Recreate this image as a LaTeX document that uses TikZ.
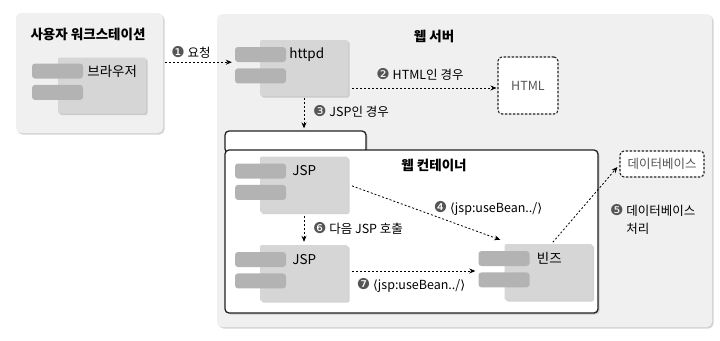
\documentclass[tikz,border=0pt]{standalone}
\usepackage{fontspec}
\setmainfont{Noto Sans CJK KR}
\newfontfamily\symfont{DejaVu Sans}
\definecolor{panel}{HTML}{F0F0F0}
\definecolor{compfill}{HTML}{D6D6D6}
\definecolor{barfill}{HTML}{B3B3B3}
\definecolor{edge}{HTML}{222222}
\definecolor{shade}{HTML}{A8A8A8}
\definecolor{numgray}{HTML}{555555}
\definecolor{txtgray}{HTML}{555555}
\usepackage{tikz}
\usetikzlibrary{arrows.meta,positioning,shadows,calc}
\newcommand\numc[1]{{\symfont\fontsize{15}{15}\selectfont\color{numgray}#1}}
\newcommand\lang{{\symfont ⟨}}
\newcommand\rang{{\symfont ⟩}}
\tikzset{
  panel_box/.style={fill=panel,rounded corners=5pt,
    drop shadow={shadow xshift=1.5pt,shadow yshift=-1.5pt,fill=shade}},
  comp_box/.style={fill=compfill,rounded corners=2pt,minimum width=88pt,minimum height=56pt,
    drop shadow={shadow xshift=1.5pt,shadow yshift=-1.5pt,fill=shade}},
  bar_box/.style={fill=barfill,rounded corners=3pt,minimum width=51pt,minimum height=15pt,
    inner sep=0pt,anchor=north west},
  cont_box/.style={draw=edge,line width=1.3pt,fill=white,rounded corners=4pt,
    drop shadow={shadow xshift=1.5pt,shadow yshift=-1.5pt,fill=shade,draw=none}},
  dash_box/.style={draw=edge,line width=1.1pt,dash pattern=on 2.5pt off 1.5pt,rounded corners=4pt,fill=white,
    font=\fontsize{12.5}{14}\selectfont,text=txtgray},
  head_txt/.style={font=\fontsize{13.5}{15}\selectfont\bfseries,inner sep=0pt},
  lbl/.style={font=\fontsize{13.5}{15}\selectfont,anchor=west,inner sep=0pt},
  note_txt/.style={font=\fontsize{12.5}{18}\selectfont,inner sep=0pt,align=left},
  arr/.style={-{Stealth[length=6pt,width=5pt]},draw=black,dash pattern=on 2pt off 2pt,line width=0.8pt},
}
\begin{document}
\begin{tikzpicture}[x=1pt,y=-1pt]
  \useasboundingbox (0,0) rectangle (720,340);

  % panels
  \node[panel_box,minimum width=147pt,minimum height=120pt] (ws) at (89.5,73) {};
  \node[panel_box,minimum width=495pt,minimum height=313pt] (srv) at (464.5,170.5) {};
  \node[head_txt] (ws-t) at (88,34) {사용자 워크스테이션};
  \node[head_txt] (srv-t) at (434,36) {웹 서버};

  % web container
  \node[cont_box,minimum width=141pt,minimum height=22pt] (tab) at (295.5,142) {};
  \node[cont_box,minimum width=373pt,minimum height=163pt] (cont) at (411.5,231.5) {};
  \node[head_txt] (cont-t) at (434,165) {웹 컨테이너};

  % components
  \node[comp_box] (brw) at (102,85.5) {};
  \node[bar_box] (brw-b1) at ([shift={(-26pt,-6pt)}]brw.north west) {};
  \node[bar_box,below=6pt of brw-b1] (brw-b2) {};
  \node[lbl] (brw-l) at ([xshift=4pt]brw-b1.east) {브라우저};

  \node[comp_box] (httpd) at (304,68) {};
  \node[bar_box] (httpd-b1) at ([shift={(-25pt,-7pt)}]httpd.north west) {};
  \node[bar_box,below=6pt of httpd-b1] (httpd-b2) {};
  \node[lbl] (httpd-l) at ([xshift=3pt]httpd-b1.east) {httpd};

  \node[comp_box] (jsp1) at (304,184.5) {};
  \node[bar_box] (jsp1-b1) at ([shift={(-25pt,-7pt)}]jsp1.north west) {};
  \node[bar_box,below=6pt of jsp1-b1] (jsp1-b2) {};
  \node[lbl] (jsp1-l) at ([xshift=6pt]jsp1-b1.east) {JSP};

  \node[comp_box] (jsp2) at (304,273) {};
  \node[bar_box] (jsp2-b1) at ([shift={(-25pt,-7pt)}]jsp2.north west) {};
  \node[bar_box,below=6pt of jsp2-b1] (jsp2-b2) {};
  \node[lbl] (jsp2-l) at ([xshift=6pt]jsp2-b1.east) {JSP};

  \node[comp_box] (beans) at (548.5,272) {};
  \node[bar_box] (beans-b1) at ([shift={(-26pt,-7pt)}]beans.north west) {};
  \node[bar_box,below=6pt of beans-b1] (beans-b2) {};
  \node[lbl] (beans-l) at ([xshift=7pt]beans-b1.east) {빈즈};

  % targets
  \node[dash_box,minimum width=60pt,minimum height=57pt] (html) at (528,85.5) {HTML};
  \node[dash_box,minimum width=84pt,minimum height=26pt] (db) at (662,164) {데이터베이스};

  % notes
  \node[note_txt] (n1) at (191,52) {\numc{❶} 요청};
  \node[note_txt] (n2) at (420,74) {\numc{❷} HTML인 경우};
  \node[note_txt] (n3) at (351,111) {\numc{❸} JSP인 경우};
  \node[note_txt] (n4) at (488,208) {\numc{❹} \lang jsp:useBean../\rang};
  \node[note_txt,anchor=west] (n5) at (610,219) {\numc{❺} 데이터베이스\\\phantom{\numc{❺} }처리};
  \node[note_txt] (n6) at (358,228) {\numc{❻} 다음 JSP 호출};
  \node[note_txt] (n7) at (411,285) {\numc{❼} \lang jsp:useBean../\rang};

  % arrows
  \draw[arr,shorten <=2pt,shorten >=3pt] (ws.east |- httpd-b1.south) -- (httpd-b1.south west);
  \draw[arr,shorten <=4pt,shorten >=1pt] ([yshift=-20pt]httpd.east) coordinate (a2) -- (a2 -| html.west);
  \draw[arr,shorten <=2pt,shorten >=2pt] (httpd.south) -- (tab.north -| httpd.south);
  \draw[arr,shorten <=4pt] (jsp1.east) -- ([shift={(-4pt,4pt)}]beans.north west);
  \draw[arr,shorten <=2pt] ([xshift=3pt]beans.north) -- ([shift={(-2pt,-3pt)}]db.west);
  \draw[arr,shorten <=3pt,shorten >=3pt] (jsp1.south) -- (jsp2.north);
  \draw[arr,shorten <=4pt,shorten >=3pt] ([yshift=2pt]jsp2.east) coordinate (a7) -- (a7 -| beans-b1.west);
\end{tikzpicture}
\end{document}
